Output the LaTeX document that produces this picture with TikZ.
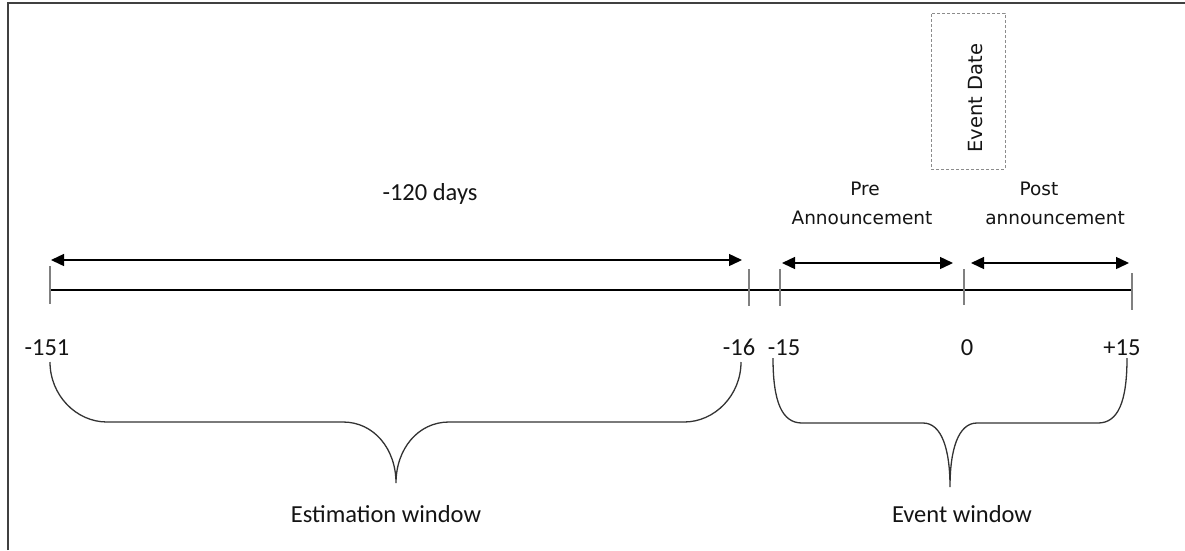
\documentclass[tikz,border=0pt]{standalone}
\usepackage{fontspec}
\setmainfont{Carlito}
\newfontfamily\uifont{DejaVu Sans}
\usetikzlibrary{arrows.meta}
\begin{document}
\begin{tikzpicture}[x=1pt,y=-1pt,
  frameline/.style={draw=black!75,line width=2pt},
  axisline/.style={draw=black,line width=1.4pt},
  tickmark/.style={draw=black!50,line width=1.8pt},
  span/.style={draw=black,line width=1.4pt,{Triangle[length=13pt,width=12pt]}-{Triangle[length=13pt,width=12pt]},shorten <=0pt,shorten >=0pt},
  bracepath/.style={draw=black!80,line width=1.3pt},
  calib/.style={inner sep=0pt,anchor=base,font=\fontsize{24.5}{28}\selectfont,text=black!92},
  ui/.style={inner sep=0pt,anchor=base,font=\uifont\fontsize{18.5}{22}\selectfont,text=black!92},
  datebox/.style={draw=black!45,dashed,dash pattern=on 3pt off 2pt,line width=0.9pt,inner sep=0pt}
]
\useasboundingbox (0,0) rectangle (1185,550);
% frame
\coordinate (fbl) at (8,550);
\coordinate (ftl) at (8,3);
\coordinate (ftr) at (1185,3);
\draw[frameline] (fbl) -- (ftl) -- (ftr);

% timeline
\coordinate (a151) at (50,290);
\coordinate (ap15) at (1131,290);
\draw[axisline] (a151) -- (ap15);

% ticks
\coordinate (k151t) at (50,266);  \coordinate (k151b) at (50,304);
\coordinate (k16t) at (749,269);  \coordinate (k16b) at (749,306);
\coordinate (k15t) at (780,269);  \coordinate (k15b) at (780,306);
\coordinate (k0t) at (964,269);   \coordinate (k0b) at (964,305);
\coordinate (kp15t) at (1132,273);\coordinate (kp15b) at (1132,310);
\draw[tickmark] (k151t) -- (k151b);
\draw[tickmark] (k16t) -- (k16b);
\draw[tickmark] (k15t) -- (k15b);
\draw[tickmark] (k0t) -- (k0b);
\draw[tickmark] (kp15t) -- (kp15b);

% span arrows
\coordinate (s1a) at (51,260);  \coordinate (s1b) at (742,260);
\coordinate (s2a) at (782,263); \coordinate (s2b) at (953,263);
\coordinate (s3a) at (971,263); \coordinate (s3b) at (1129,263);
\draw[span] (s1a) -- (s1b);
\draw[span] (s2a) -- (s2b);
\draw[span] (s3a) -- (s3b);

% labels above
\node[calib] (days) at (430,200) {-120 days};
\node[ui] (pre1) at (865,195) {Pre};
\node[ui] (pre2) at (862,224) {Announcement};
\node[ui] (post1) at (1039,195) {Post};
\node[ui] (post2) at (1055,224) {announcement};

% event date box
\node[datebox,minimum width=74pt,minimum height=156pt] (edbox) at (968,91) {};
\node[ui,rotate=90,font=\uifont\fontsize{19.5}{22}\selectfont] (edtext) at (982,98) {Event Date};

% numbers
\node[calib] (n151) at (47,355) {-151};
\node[calib] (n16) at (739,355) {-16};
\node[calib] (n15) at (784,355) {-15};
\node[calib] (n0) at (967,355) {0};
\node[calib] (np15) at (1122,355) {+15};

% estimation brace
\coordinate (eb1) at (50,362);
\coordinate (eb2) at (107,422);
\coordinate (eb3) at (343,422);
\coordinate (ebtip) at (396,483);
\coordinate (eb4) at (449,422);
\coordinate (eb5) at (684,422);
\coordinate (eb6) at (741,362);
\draw[bracepath] (eb1) .. controls (50,395) and (76,422) .. (eb2) -- (eb3)
  .. controls (374,422) and (396,449) .. (ebtip)
  .. controls (396,449) and (418,422) .. (eb4) -- (eb5)
  .. controls (715,422) and (741,395) .. (eb6);

% event brace
\coordinate (vb1) at (773,358);
\coordinate (vb2) at (802,423);
\coordinate (vb3) at (923,423);
\coordinate (vbtip) at (950,487);
\coordinate (vb4) at (977,423);
\coordinate (vb5) at (1098,423);
\coordinate (vb6) at (1127,358);
\draw[bracepath] (vb1) .. controls (773,402) and (782,423) .. (vb2) -- (vb3)
  .. controls (942,423) and (950,450) .. (vbtip)
  .. controls (950,450) and (958,423) .. (vb4) -- (vb5)
  .. controls (1118,423) and (1127,402) .. (vb6);

% window labels
\node[calib] (estw) at (386,522) {Estimation window};
\node[calib] (evw) at (962,522) {Event window};
\end{tikzpicture}
\end{document}
